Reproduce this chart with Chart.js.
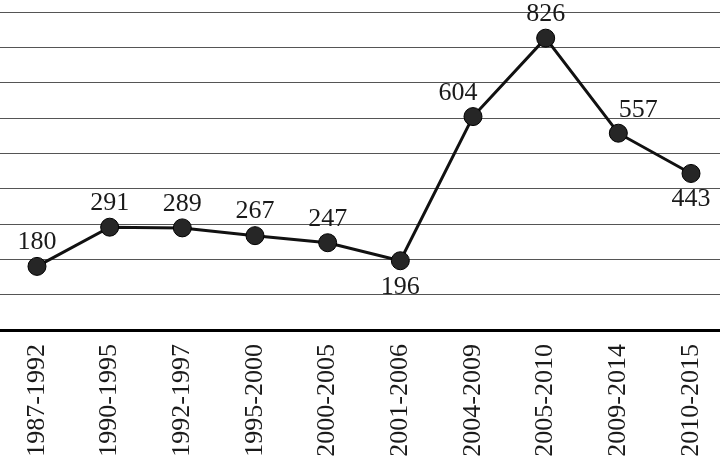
<!DOCTYPE html>
<html>
<head>
<meta charset="utf-8">
<script src="https://cdn.jsdelivr.net/npm/chart.js@4/dist/chart.umd.min.js"></script>
<style>
  html, body { margin: 0; padding: 0; background: #fff; }
  #wrap { width: 720px; height: 464px; position: relative; }
</style>
</head>
<body>
<div id="wrap"><canvas id="periodChart"></canvas></div>
<script>
// data
var periods = ['1987-1992', '1990-1995', '1992-1997', '1995-2000', '2000-2005',
               '2001-2006', '2004-2009', '2005-2010', '2009-2014', '2010-2015'];
var counts = [180, 291, 289, 267, 247, 196, 604, 826, 557, 443];
var labelSide = ['up', 'up', 'up', 'up', 'up', 'down', 'upleft', 'up', 'upright', 'down'];
var yMin = 0, yMax = 900, yStep = 100;

var serif = "'Liberation Serif', 'Times New Roman', serif";

// value labels next to each point
var pointLabels = {
  id: 'pointLabels',
  afterDatasetsDraw: function(chart){
    var ctx = chart.ctx;
    var meta = chart.getDatasetMeta(0);
    var shift = {
      up: [0, -24], down: [0, 26],
      upleft: [-15, -23], upright: [20, -23]
    };
    ctx.save();
    ctx.font = '26px ' + serif;
    ctx.fillStyle = '#1a1a1a';
    ctx.textAlign = 'center';
    ctx.textBaseline = 'middle';
    for(var i = 0; i < meta.data.length; i++){
      var pt = meta.data[i];
      var s = shift[labelSide[i]];
      ctx.fillText(String(counts[i]), pt.x + s[0], pt.y + s[1]);
    }
    ctx.restore();
  }
};

var opt = {
  type: 'line',
  data: {
    datasets: [{
      data: counts.map(function(v, i){ return { x: i, y: v }; }),
      borderColor: '#111',
      borderWidth: 3,
      pointRadius: 9,
      pointHoverRadius: 9,
      pointBackgroundColor: '#262626',
      pointBorderColor: '#000',
      pointBorderWidth: 1,
      tension: 0,
      fill: false
    }]
  },
  options: {
    responsive: true,
    maintainAspectRatio: false,
    animation: false,
    layout: { autoPadding: false, padding: { top: 12, left: 0, right: 0, bottom: 0 } },
    plugins: {
      legend: { display: false },
      tooltip: { enabled: false }
    },
    scales: {
      x: {
        type: 'linear',
        min: -0.509,
        max: 9.399,
        afterBuildTicks: function(scale){
          scale.ticks = periods.map(function(p, i){ return { value: i }; });
        },
        afterFit: function(scale){
          scale.height = 134;
          scale.paddingLeft = 0;
          scale.paddingRight = 0;
        },
        grid: { display: false, drawTicks: false },
        border: { display: true, color: '#000', width: 3 },
        ticks: {
          autoSkip: false,
          minRotation: 90,
          maxRotation: 90,
          padding: 14,
          color: '#1a1a1a',
          font: { family: serif, size: 26 },
          callback: function(value){ return periods[value]; }
        }
      },
      y: {
        min: yMin,
        max: yMax,
        afterFit: function(scale){
          scale.width = 0;
          scale.paddingTop = 0;
          scale.paddingBottom = 0;
        },
        grid: { color: '#555', lineWidth: 1, drawTicks: false },
        border: { display: false },
        ticks: { display: false, stepSize: yStep }
      }
    }
  },
  plugins: [pointLabels]
};

var ctx = document.getElementById('periodChart');
var periodChart = new Chart(ctx, opt);
</script>
</body>
</html>
